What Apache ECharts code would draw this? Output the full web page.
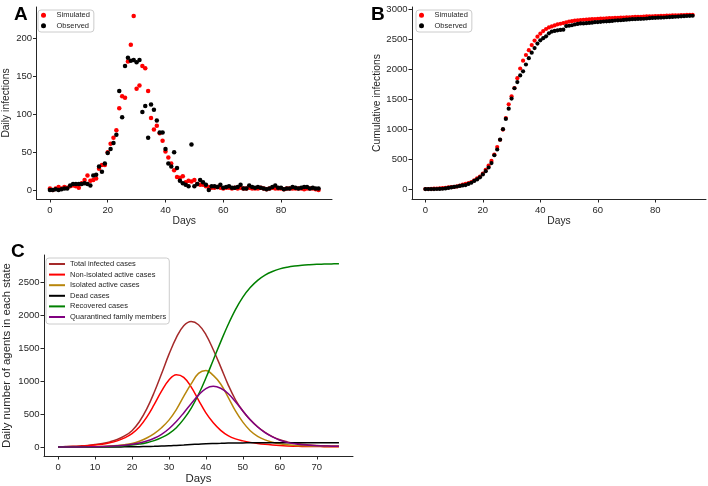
<!DOCTYPE html>
<html>
<head>
<meta charset="utf-8">
<script src="https://cdn.jsdelivr.net/npm/echarts@6/dist/echarts.min.js"></script>
<style>
html,body{margin:0;padding:0;background:#fff;}
#chart{width:708px;height:486px;}
</style>
</head>
<body>
<div id="chart"></div>
<script>
// Panel A: daily infections (day index = array index)
const simDaily = [2,0,2,4,2,4,3,5,6,5,
 3,9,13,19,12,13,15,28,33,33,
 50,61,69,79,108,124,122,170,192,230,
 134,138,164,161,131,95,80,85,75,65,
 51,43,35,26,17,16,18,10,12,11,
 13,8,7,7,5,4,3,3,4,3,
 2,3,3,2,3,2,3,2,2,3,
 2,2,2,3,2,1,2,3,2,2,
 2,1,2,2,2,2,2,2,1,2,
 2,2,1,0];
const obsDaily = [0,0,1,0,1,2,2,6,8,8,
 8,8,9,8,6,19,20,31,24,35,
 49,54,62,73,131,96,164,175,171,172,
 169,172,103,111,69,113,106,92,76,76,
 54,35,31,50,29,12,9,7,5,60,
 5,8,13,10,7,0,5,5,4,7,
 3,4,5,3,3,4,7,2,2,6,
 4,3,4,3,2,1,2,4,6,3,
 3,1,2,2,4,3,2,3,4,4,
 2,3,2,2];
// Panel B: cumulative infections
const simCum = [2,2,4,8,10,14,17,22,28,33,
 36,45,58,77,89,102,117,145,178,211,
 261,322,391,470,578,702,824,994,1186,1416,
 1550,1688,1852,2013,2144,2239,2319,2404,2479,2544,
 2595,2638,2673,2699,2716,2732,2750,2760,2772,2783,
 2796,2804,2811,2818,2823,2827,2830,2833,2837,2840,
 2842,2845,2848,2850,2853,2855,2858,2860,2862,2865,
 2867,2869,2871,2874,2876,2877,2879,2882,2884,2886,
 2888,2889,2891,2893,2895,2897,2899,2901,2902,2904,
 2906,2908,2909,2909];
const obsCum = [0,0,1,1,2,4,6,12,20,28,
 36,44,53,61,67,86,106,137,161,196,
 245,299,361,434,565,661,825,1000,1171,1343,
 1512,1684,1787,1898,1967,2080,2186,2278,2354,2430,
 2484,2519,2550,2600,2629,2641,2650,2657,2662,2722,
 2727,2735,2748,2758,2765,2765,2770,2775,2779,2786,
 2789,2793,2798,2801,2804,2808,2815,2817,2819,2825,
 2829,2832,2836,2839,2841,2842,2844,2848,2854,2857,
 2860,2861,2863,2865,2869,2872,2874,2877,2881,2885,
 2887,2890,2892,2894];
// Panel C: agents in each state
const daysC = [0,2,4,6,8,10,12,14,16,18,20,22,24,26,28,30,32,34,36,38,40,42,44,46,48,50,52,54,56,58,60,62,64,66,68,70,72,74,76];
const totalInfected = [5,8,12,18,26,38,55,80,115,170,250,385,580,830,1115,1410,1665,1845,1910,1860,1710,1480,1220,950,720,550,415,310,225,160,112,80,58,43,33,26,21,18,16];
const nonIsolated = [5,7,10,15,22,32,45,65,95,140,205,305,455,645,850,1020,1100,1060,915,715,520,370,255,175,125,95,72,55,42,32,24,18,14,11,9,8,7,6,5];
const isolated = [2,2,3,4,6,8,11,16,24,36,55,88,138,205,295,410,570,770,960,1120,1165,1090,960,760,550,380,250,165,110,75,50,35,26,20,16,13,11,10,9];
const dead = [0,0,0,1,1,1,2,2,3,4,5,7,9,12,16,20,26,32,39,45,51,55,58,61,63,64,65,66,66,67,67,67,68,68,68,68,68,68,68];
const recovered = [1,1,1,2,3,4,6,9,14,21,31,46,67,99,145,205,295,425,590,800,1050,1325,1600,1860,2090,2280,2425,2535,2615,2670,2709,2735,2753,2765,2773,2779,2782,2785,2787];
const quarantined = [1,2,2,3,4,6,9,13,19,28,42,62,92,135,195,280,390,520,660,790,890,925,895,815,690,550,415,305,220,155,105,72,50,36,27,21,17,14,12];

const ticksAB_x = [0,20,40,60,80];
const ticksA_y = [0,50,100,150,200];
const ticksB_y = [0,500,1000,1500,2000,2500,3000];
const ticksC_x = [0,10,20,30,40,50,60,70];
const ticksC_y = [0,500,1000,1500,2000,2500];
const namesC = ['Total infected cases','Non-isolated active cases','Isolated active cases','Dead cases','Recovered cases','Quarantined family members'];
const colorsC = ['#a52a2a','#ff0000','#b8860b','#000000','#008000','#800080'];
const valuesC = [totalInfected, nonIsolated, isolated, dead, recovered, quarantined];

const FF = '"Liberation Sans", Arial, Helvetica, sans-serif';
const INK = '#262626';

function valAxis(gridIndex, min, max, ticks, name, nameGap, nameSize, labelMargin) {
  return {
    type: 'value', gridIndex, min, max,
    axisLine: {show: true, onZero: false, lineStyle: {color: INK, width: 1}},
    axisTick: {show: true, length: 3.5, customValues: ticks, lineStyle: {color: INK, width: 1}},
    axisLabel: {customValues: ticks, fontSize: 9.5, color: INK, fontFamily: FF, margin: labelMargin,
      formatter: (v) => String(v)},
    splitLine: {show: false},
    name, nameLocation: 'middle', nameGap,
    nameTextStyle: {fontSize: nameSize, color: INK, fontFamily: FF}
  };
}

function pairs(arr) { return arr.map((v, i) => [i, v]); }

const legendAB = (left) => ({
  left, top: 10, orient: 'vertical', selectedMode: false,
  data: ['Simulated', 'Observed'], icon: 'circle',
  itemWidth: 16, itemHeight: 5, itemGap: 1.4,
  padding: [0.8, 4, 1.8, 3],
  textStyle: {fontSize: 7.5, lineHeight: 9, color: INK, fontFamily: FF},
  backgroundColor: '#fff', borderColor: '#cccccc', borderWidth: 1, borderRadius: 3
});

const series = [
  {type: 'scatter', name: 'Simulated', xAxisIndex: 0, yAxisIndex: 0, data: pairs(simDaily), symbolSize: 4.5, itemStyle: {color: '#ff0000', opacity: 1}},
  {type: 'scatter', name: 'Observed', xAxisIndex: 0, yAxisIndex: 0, data: pairs(obsDaily), symbolSize: 4.5, itemStyle: {color: '#000000', opacity: 1}},
  {type: 'scatter', name: 'Simulated', xAxisIndex: 1, yAxisIndex: 1, data: pairs(simCum), symbolSize: 4.2, itemStyle: {color: '#ff0000', opacity: 1}},
  {type: 'scatter', name: 'Observed', xAxisIndex: 1, yAxisIndex: 1, data: pairs(obsCum), symbolSize: 4.2, itemStyle: {color: '#000000', opacity: 1}}
];
namesC.forEach((n, k) => {
  series.push({
    type: 'line', name: n, xAxisIndex: 2, yAxisIndex: 2,
    data: valuesC[k].map((v, i) => [daysC[i], v]),
    symbol: 'none', smooth: 0.4,
    lineStyle: {color: colorsC[k], width: 1.5}, itemStyle: {color: colorsC[k]}
  });
});

const option = {
  animation: false,
  backgroundColor: '#fff',
  title: [
    {text: 'A', left: 9, top: 0, textStyle: {fontSize: 19, fontWeight: 'bold', color: '#000', fontFamily: FF}},
    {text: 'B', left: 366, top: 0, textStyle: {fontSize: 19, fontWeight: 'bold', color: '#000', fontFamily: FF}},
    {text: 'C', left: 6, top: 237, textStyle: {fontSize: 19, fontWeight: 'bold', color: '#000', fontFamily: FF}}
  ],
  grid: [
    {left: 35, top: 7, width: 297, height: 192},
    {left: 412, top: 7, width: 294, height: 192},
    {left: 43, top: 255, width: 310, height: 201}
  ],
  xAxis: [
    valAxis(0, -4.65, 97.65, ticksAB_x, 'Days', 16, 10.3, 6),
    valAxis(1, -4.65, 97.65, ticksAB_x, 'Days', 16, 10.3, 6),
    valAxis(2, -3.8, 79.8, ticksC_x, 'Days', 17.5, 11.4, 6)
  ],
  yAxis: [
    valAxis(0, -12, 242, ticksA_y, 'Daily infections', 25.5, 10.3, 4.5),
    valAxis(1, -165, 3040, ticksB_y, 'Cumulative infections', 29, 10.3, 4.5),
    valAxis(2, -135, 2920, ticksC_y, 'Daily number of agents in each state', 32, 11.4, 4.5)
  ],
  legend: [
    legendAB(38),
    legendAB(416),
    {
      left: 46, top: 258, orient: 'vertical', selectedMode: false,
      data: namesC, icon: 'rect', itemWidth: 16, itemHeight: 2, itemGap: 1.6,
      padding: [1.5, 3, 2.5, 3],
      textStyle: {fontSize: 7.5, lineHeight: 9, color: INK, fontFamily: FF},
      backgroundColor: '#fff', borderColor: '#cccccc', borderWidth: 1, borderRadius: 3
    }
  ],
  series
};

const chart = echarts.init(document.getElementById('chart'), null, {renderer: 'canvas'});
chart.setOption(option);
</script>
</body>
</html>
